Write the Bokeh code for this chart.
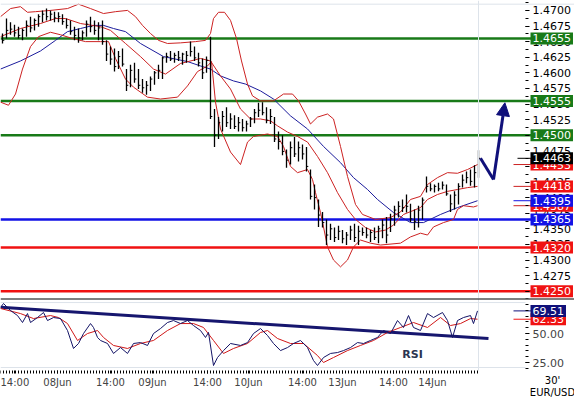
import numpy as np
from bokeh.plotting import figure
from bokeh.models import (Range1d, FixedTicker, PrintfTickFormatter, Span, Label,
                          Arrow, NormalHead)
from bokeh.layouts import column
from bokeh.embed import file_html
from bokeh.resources import INLINE

# ---------------- data ----------------
bar_high = [1.4663, 1.4687, 1.4681, 1.4677, 1.4674, 1.4671, 1.4684, 1.4690, 1.4687, 1.4694,
            1.4700, 1.4703, 1.4700, 1.4698, 1.4697, 1.4694, 1.4687, 1.4684, 1.4674, 1.4671,
            1.4668, 1.4684, 1.4690, 1.4684, 1.4681, 1.4684, 1.4652, 1.4642, 1.4639, 1.4635,
            1.4639, 1.4606, 1.4613, 1.4616, 1.4606, 1.4590, 1.4587, 1.4594, 1.4603, 1.4613,
            1.4626, 1.4632, 1.4635, 1.4632, 1.4635, 1.4632, 1.4635, 1.4650, 1.4642, 1.4632,
            1.4623, 1.4626, 1.4658, 1.4542, 1.4529, 1.4539, 1.4545, 1.4535, 1.4532, 1.4529,
            1.4526, 1.4523, 1.4529, 1.4542, 1.4552, 1.4553, 1.4545, 1.4542, 1.4529, 1.4506,
            1.4500, 1.4477, 1.4490, 1.4497, 1.4490, 1.4485, 1.4481, 1.4445, 1.4421, 1.4397,
            1.4377, 1.4365, 1.4358, 1.4352, 1.4355, 1.4348, 1.4345, 1.4355, 1.4358, 1.4355,
            1.4352, 1.4352, 1.4348, 1.4352, 1.4355, 1.4365, 1.4369, 1.4374, 1.4387, 1.4394,
            1.4397, 1.4405, 1.4390, 1.4381, 1.4387, 1.4400, 1.4434, 1.4423, 1.4421, 1.4424,
            1.4426, 1.4421, 1.4405, 1.4410, 1.4423, 1.4437, 1.4442, 1.4445, 1.4452, 1.4476]
bar_low = [1.4647, 1.4655, 1.4661, 1.4658, 1.4655, 1.4652, 1.4658, 1.4665, 1.4668, 1.4674,
           1.4681, 1.4684, 1.4684, 1.4681, 1.4681, 1.4677, 1.4671, 1.4661, 1.4652, 1.4648,
           1.4652, 1.4658, 1.4665, 1.4661, 1.4652, 1.4645, 1.4619, 1.4613, 1.4602, 1.4606,
           1.4610, 1.4571, 1.4577, 1.4584, 1.4574, 1.4568, 1.4565, 1.4571, 1.4581, 1.4590,
           1.4590, 1.4616, 1.4619, 1.4616, 1.4619, 1.4613, 1.4616, 1.4626, 1.4619, 1.4610,
           1.4590, 1.4600, 1.4526, 1.4481, 1.4494, 1.4506, 1.4513, 1.4510, 1.4510, 1.4506,
           1.4506, 1.4506, 1.4513, 1.4519, 1.4529, 1.4532, 1.4519, 1.4518, 1.4489, 1.4477,
           1.4468, 1.4448, 1.4453, 1.4465, 1.4458, 1.4461, 1.4442, 1.4397, 1.4381, 1.4353,
           1.4352, 1.4324, 1.4332, 1.4329, 1.4332, 1.4327, 1.4324, 1.4332, 1.4329, 1.4324,
           1.4339, 1.4335, 1.4329, 1.4332, 1.4327, 1.4335, 1.4327, 1.4345, 1.4355, 1.4368,
           1.4377, 1.4376, 1.4361, 1.4348, 1.4352, 1.4365, 1.4408, 1.4410, 1.4408, 1.4410,
           1.4413, 1.4403, 1.4377, 1.4381, 1.4389, 1.4416, 1.4423, 1.4419, 1.4416, 1.4432]
bar_close = [1.4652, 1.4668, 1.4670, 1.4664, 1.4660, 1.4668, 1.4676, 1.4672, 1.4684, 1.4690,
             1.4694, 1.4690, 1.4694, 1.4688, 1.4690, 1.4682, 1.4676, 1.4666, 1.4660, 1.4656,
             1.4664, 1.4678, 1.4674, 1.4668, 1.4672, 1.4650, 1.4630, 1.4622, 1.4610, 1.4626,
             1.4614, 1.4580, 1.4604, 1.4590, 1.4580, 1.4576, 1.4580, 1.4590, 1.4600, 1.4604,
             1.4624, 1.4626, 1.4622, 1.4628, 1.4624, 1.4630, 1.4628, 1.4634, 1.4624, 1.4616,
             1.4600, 1.4620, 1.4530, 1.4500, 1.4520, 1.4530, 1.4520, 1.4526, 1.4514, 1.4520,
             1.4512, 1.4518, 1.4526, 1.4536, 1.4540, 1.4536, 1.4524, 1.4530, 1.4494, 1.4490,
             1.4474, 1.4460, 1.4480, 1.4470, 1.4480, 1.4470, 1.4450, 1.4402, 1.4400, 1.4372,
             1.4360, 1.4340, 1.4350, 1.4336, 1.4346, 1.4334, 1.4340, 1.4348, 1.4336, 1.4346,
             1.4344, 1.4340, 1.4344, 1.4336, 1.4350, 1.4356, 1.4340, 1.4366, 1.4380, 1.4386,
             1.4384, 1.4386, 1.4366, 1.4362, 1.4380, 1.4396, 1.4418, 1.4414, 1.4418, 1.4414,
             1.4420, 1.4406, 1.4390, 1.4404, 1.4418, 1.4428, 1.4432, 1.4426, 1.4440, 1.4463]

bb_up_h = [0, 2.5, 5, 6.75, 8.75, 12.5, 16.75, 19.5, 22.5, 25.75, 28.75, 31.75, 33.75, 35.5,
           37.5, 39.5, 41.75, 45, 48.75, 51.25, 52.5, 53.25, 54.5, 56, 57.5, 59, 60.25, 61.75,
           63, 65, 68.25, 70.75, 73, 74.5, 76.25, 77.5, 79.25, 81.75, 83.25, 85, 86.75, 88.75,
           90.5, 93.75, 97.5, 100, 102.5, 105, 106.75, 109.25, 111.75, 114.25, 116.75, 119.25]
bb_up = [1.4690, 1.4703, 1.4706, 1.4697, 1.4698, 1.4700, 1.4703, 1.4710, 1.4703, 1.4695,
         1.4698, 1.4700, 1.4690, 1.4676, 1.4663, 1.4652, 1.4647, 1.4648, 1.4650, 1.4652,
         1.4663, 1.4687, 1.4697, 1.4697, 1.4684, 1.4655, 1.4619, 1.4582, 1.4563, 1.4555,
         1.4555, 1.4566, 1.4566, 1.4555, 1.4534, 1.4518, 1.4529, 1.4534, 1.4526, 1.4482,
         1.4434, 1.4389, 1.4373, 1.4365, 1.4368, 1.4377, 1.4397, 1.4402, 1.4421, 1.4432,
         1.4440, 1.4439, 1.4445, 1.4453]
bb_mid_h = [0, 5, 10, 13.75, 16.25, 20, 25, 27.5, 31.25, 35, 38.25, 41.25, 45, 50, 52.5, 55,
            57.5, 60, 62.5, 65, 67.5, 69.25, 71.75, 74.25, 76.75, 79.25, 81.75, 84.25, 86.75,
            88.75, 91.25, 93.75, 96.25, 98.25, 100.75, 105, 106.75, 109.25, 111.75, 114.25,
            116.75, 119.25]
bb_mid = [1.4658, 1.4671, 1.4679, 1.4687, 1.4687, 1.4679, 1.4674, 1.4668, 1.4647, 1.4626,
          1.4606, 1.4598, 1.4615, 1.4623, 1.4619, 1.4595, 1.4574, 1.4542, 1.4526, 1.4526,
          1.4523, 1.4515, 1.4505, 1.4498, 1.4489, 1.4466, 1.4440, 1.4408, 1.4381, 1.4365,
          1.4352, 1.4345, 1.4348, 1.4356, 1.4373, 1.4384, 1.4397, 1.4405, 1.4410, 1.4413,
          1.4416, 1.4418]
bb_low_h = [0, 2, 3.75, 5.5, 7.5, 9.5, 12.5, 15, 18, 21.25, 25, 27, 28.75, 31.25, 33.25,
            36.75, 40, 44.25, 46.75, 49.25, 51.75, 52.75, 53.75, 55, 57.5, 60, 61.75, 63.25,
            66.75, 69.25, 70.75, 72.5, 74.25, 76.75, 78, 78.75, 80, 80.75, 81.75, 83.25, 85,
            86.75, 88.25, 90, 92.5, 95, 100, 102.5, 105, 106.75, 108.25, 110.75, 113.25,
            114.25, 115.75, 118.25, 119.25]
bb_low = [1.4553, 1.4548, 1.4566, 1.4606, 1.4642, 1.4658, 1.4665, 1.4661, 1.4655, 1.4650,
          1.4650, 1.4650, 1.4623, 1.4590, 1.4577, 1.4561, 1.4558, 1.4561, 1.4579, 1.4602,
          1.4611, 1.4618, 1.4553, 1.4510, 1.4473, 1.4453, 1.4489, 1.4498, 1.4502, 1.4498,
          1.4482, 1.4450, 1.4440, 1.4445, 1.4429, 1.4408, 1.4376, 1.4353, 1.4321, 1.4300,
          1.4289, 1.4300, 1.4321, 1.4332, 1.4327, 1.4324, 1.4327, 1.4337, 1.4343, 1.4340,
          1.4353, 1.4360, 1.4365, 1.4381, 1.4387, 1.4385, 1.4387]
ma_h = [0, 5, 10, 13.75, 16.75, 20, 23.25, 25.75, 28.25, 31.25, 35, 40.75, 46.75, 50, 52.5,
        55, 58.25, 61.25, 65, 68.25, 72.5, 76.75, 80.75, 85, 88.25, 91.75, 94.25, 98.25,
        102.5, 105.75, 110, 114.25, 119.25]
ma = [1.4606, 1.4619, 1.4635, 1.4652, 1.4666, 1.4671, 1.4676, 1.4676, 1.4671, 1.4666,
      1.4647, 1.4626, 1.4618, 1.4611, 1.4606, 1.4595, 1.4587, 1.4582, 1.4571, 1.4558,
      1.4531, 1.4510, 1.4482, 1.4456, 1.4432, 1.4413, 1.4397, 1.4376, 1.4360, 1.4360,
      1.4373, 1.4384, 1.4395]

support_levels = [1.4365]
resistance_levels = [1.4655, 1.4555, 1.4500]
red_levels = [1.4320, 1.4250]
last_price = 1.4463
bb_last = [1.4453, 1.4418, 1.4387]
ma_last = 1.4395

arrow_h = [120, 123.25, 126.1]
arrow_p = [1.4463, 1.4429, 1.4552]

rsi_h = [0, 0.75, 2.5, 4.25, 5.5, 6.75, 7.5, 9.25, 10.75, 11.75, 13.25, 15, 16.75, 18.25,
         19.5, 20.75, 22.5, 23.25, 24.25, 25, 26.75, 28.25, 30, 31.75, 33.25, 35, 36.75,
         38.25, 40, 41.75, 43.25, 45, 46.75, 48.25, 50, 51.25, 52, 53.25, 54.25, 55.75, 57.5,
         60, 61.75, 63.25, 65, 66.75, 68.25, 70, 71.75, 73.25, 75, 76.75, 78.25, 79.25, 80.75,
         82.5, 84.25, 85.75, 87.5, 89.25, 90.75, 92.5, 94.25, 95.75, 97.5, 99.25, 100.75,
         102, 103.25, 105, 106.75, 108.25, 110.5, 111.75, 113, 114.25, 115.75, 117.5,
         118.25, 119.25]
rsi = [72.4, 75.9, 69.8, 65.5, 59.5, 67.2, 59.5, 63.8, 68.1, 61.2, 63.8, 62.9, 52.6, 37.1,
       41.4, 50.0, 58.6, 55.2, 46.6, 44.0, 41.4, 32.8, 37.9, 32.8, 41.4, 42.2, 39.7, 50.0,
       54.3, 59.5, 61.2, 58.6, 61.2, 56.9, 52.6, 46.6, 50.9, 22.4, 29.3, 35.3, 41.4, 39.7,
       42.2, 50.0, 54.3, 48.3, 41.4, 35.3, 37.9, 41.4, 44.0, 37.9, 26.7, 22.4, 29.3, 32.8,
       33.6, 35.3, 37.9, 42.2, 41.4, 44.0, 46.6, 52.6, 50.0, 61.2, 55.2, 65.5, 55.2, 52.6,
       67.2, 63.8, 68.1, 61.2, 46.6, 61.2, 63.8, 65.5, 58.6, 69.51]
rsi_ma_h = [0, 5, 8.25, 12.5, 14.5, 16.75, 19.25, 21.75, 24.25, 25.75, 28.25, 31.75, 35,
            38.25, 41.75, 45, 48.25, 50.75, 53.25, 55.75, 58.25, 61.75, 65, 66.75, 69.25,
            72.5, 75.75, 79.25, 80.75, 83.25, 86.75, 90, 93.25, 96.75, 100, 103.25, 106.75,
            110, 112.5, 115, 117.5, 119.25]
rsi_ma = [71.6, 67.2, 62.9, 65.5, 63.8, 58.6, 44.0, 50.0, 52.6, 46.6, 39.7, 37.1, 41.4,
          44.0, 52.6, 58.6, 58.6, 55.2, 44.0, 32.8, 37.1, 41.4, 50.9, 52.6, 45.7, 41.4, 41.4,
          31.0, 25.0, 29.3, 35.3, 39.7, 44.0, 50.9, 55.2, 59.5, 55.2, 63.8, 56.9, 58.6, 62.9,
          62.33]
rsi_trend_h = [0, 122]
rsi_trend = [72.6, 45.6]

time_ticks = [3.5, 14.25, 27.5, 38, 51.75, 62, 75.5, 85.5, 98.25, 108]
time_labels = ["14:00", "08Jun", "14:00", "09Jun", "14:00", "10Jun", "14:00", "13Jun",
               "14:00", "14Jun"]
price_ticks = [1.4250, 1.4275, 1.4300, 1.4325, 1.4350, 1.4375, 1.4400, 1.4425, 1.4450,
               1.4475, 1.4500, 1.4525, 1.4550, 1.4575, 1.4600, 1.4625, 1.4650, 1.4675, 1.4700]
rsi_ticks = [25, 50]

# ---------------- styling ----------------
W = 574
P_H = 298
R_H = 101
FONT = "DejaVu Sans"
GREEN = "#187a18"
BLUE_LVL = "#1212e6"
RED_LVL = "#f01212"
BB_RED = "#cc2222"
MA_BLUE = "#1c1c9c"
NAVY = "#10107a"
LIGHT = "#dde3ea"

x_data_end = 131.25      # right edge of the chart area (axis position)
x_range = Range1d(0, 143.5)
bar_x = np.arange(len(bar_high)) + 0.5

common = dict(width=W, output_backend="svg", toolbar_location=None, x_range=x_range,
              min_border_left=0, min_border_right=0, min_border_top=0, min_border_bottom=0)

p = figure(height=P_H, y_range=Range1d(1.42383, 1.47159), y_axis_location="right",
           x_axis_location=None, **common)
p.grid.visible = False
p.outline_line_color = None
p.background_fill_color = "white"

ax = p.yaxis[0]
ax.fixed_location = x_data_end
ax.ticker = FixedTicker(ticks=price_ticks,
                        minor_ticks=list(np.arange(1.42375, 1.4716, 0.00125)))
ax.formatter = PrintfTickFormatter(format="%.4f")
ax.axis_line_color = None
ax.major_tick_in = 0
ax.major_tick_out = 4
ax.minor_tick_in = 0
ax.minor_tick_out = 3
ax.major_label_standoff = 3
ax.major_label_text_font = FONT
ax.major_label_text_font_size = "11px"
ax.major_label_text_color = "#000000"

p.add_layout(Span(location=1.4710, dimension="width", line_color=LIGHT, line_width=1))
p.add_layout(Span(location=119.5, dimension="height", line_color=LIGHT, line_width=1))

lvl_x = [0, x_data_end + 1.5]
for lv in resistance_levels:
    p.line(lvl_x, [lv, lv], line_color=GREEN, line_width=2.5)
for lv in support_levels:
    p.line(lvl_x, [lv, lv], line_color=BLUE_LVL, line_width=2.5)
for lv in red_levels:
    p.line(lvl_x, [lv, lv], line_color=RED_LVL, line_width=2.5)

p.line(ma_h, ma, line_color=MA_BLUE, line_width=1)
p.line(bb_up_h, bb_up, line_color=BB_RED, line_width=1)
p.line(bb_mid_h, bb_mid, line_color=BB_RED, line_width=1)
p.line(bb_low_h, bb_low, line_color=BB_RED, line_width=1)

p.segment(x0=bar_x, y0=bar_low, x1=bar_x, y1=bar_high, line_color="black", line_width=1.3)
p.segment(x0=bar_x, y0=bar_close, x1=bar_x + 0.45, y1=bar_close, line_color="black",
          line_width=1)

p.line(arrow_h[:2], arrow_p[:2], line_color=NAVY, line_width=3)
p.add_layout(Arrow(end=NormalHead(size=13, fill_color=NAVY, line_color=NAVY),
                   x_start=arrow_h[1], y_start=arrow_p[1], x_end=arrow_h[2], y_end=arrow_p[2],
                   line_color=NAVY, line_width=3))

# stubs next to value tags
stub_x0 = x_data_end - 3
stub_x1 = x_data_end + 1.5
p.segment(x0=[stub_x0] * 3, y0=bb_last, x1=[stub_x1] * 3, y1=bb_last, line_color=BB_RED)
p.segment(x0=[stub_x0], y0=[ma_last], x1=[stub_x1], y1=[ma_last], line_color=BLUE_LVL)
p.segment(x0=[stub_x0 + 1], y0=[last_price], x1=[stub_x1], y1=[last_price],
          line_color="black")

tag_x = x_data_end + 1.25


def tag(fig, x, y, v, color, fmt="%.4f"):
    fig.add_layout(Label(x=x, y=y, text=fmt % v, text_color="white", text_font=FONT,
                         text_font_size="11px", text_baseline="middle", text_align="left",
                         background_fill_color=color, background_fill_alpha=1.0,
                         padding=2))


for v in resistance_levels:
    tag(p, tag_x, v, v, GREEN)
for v in red_levels:
    tag(p, tag_x, v, v, RED_LVL)
tag(p, tag_x, bb_last[0], bb_last[0], RED_LVL)
tag(p, tag_x, bb_last[2], bb_last[2], RED_LVL)
tag(p, tag_x, bb_last[1], bb_last[1], RED_LVL)
tag(p, tag_x, ma_last, ma_last, BLUE_LVL)
for v in support_levels:
    tag(p, tag_x, v, v, BLUE_LVL)
tag(p, tag_x, last_price, last_price, "#000000")

# ---------------- RSI panel ----------------
rsi_axis_floor = 18.1
r = figure(height=R_H, y_range=Range1d(-6.9, 80.2), y_axis_location="right",
           x_axis_location="below", **common)
r.grid.visible = False
r.outline_line_color = None
r.background_fill_color = "white"

ry = r.yaxis[0]
ry.fixed_location = x_data_end
ry.ticker = FixedTicker(ticks=rsi_ticks, minor_ticks=list(range(20, 81, 5)))
ry.formatter = PrintfTickFormatter(format="%.2f")
ry.axis_line_color = None
ry.major_tick_in = 0
ry.major_tick_out = 4
ry.minor_tick_in = 0
ry.minor_tick_out = 3
ry.major_label_standoff = 3
ry.major_label_text_font = FONT
ry.major_label_text_font_size = "11px"

rx = r.xaxis[0]
rx.fixed_location = rsi_axis_floor
rx.ticker = FixedTicker(ticks=time_ticks, minor_ticks=list(np.arange(0, 119.3, 0.75)))
rx.major_label_overrides = {t: s for t, s in zip(time_ticks, time_labels)}
rx.axis_line_color = None
rx.major_tick_in = 0
rx.major_tick_out = 3
rx.minor_tick_in = 0
rx.minor_tick_out = 3
rx.major_label_standoff = 3
rx.major_label_text_font = FONT
rx.major_label_text_font_size = "10px"

r.add_layout(Span(location=80.0, dimension="width", line_color="black", line_width=1.5))
r.line([0, x_data_end], [76.7, 76.7], line_color=LIGHT, line_width=1)
r.line([0, x_data_end], [20.7, 20.7], line_color=LIGHT, line_width=1)
r.line([119.5, 119.5], [rsi_axis_floor, 80.2], line_color=LIGHT, line_width=1)

r.line(rsi_trend_h, rsi_trend, line_color="#16166e", line_width=3)
r.line(rsi_ma_h, rsi_ma, line_color="#d01818", line_width=1)
r.line(rsi_h, rsi, line_color="#141466", line_width=1)

r.segment(x0=[stub_x0], y0=[rsi[-1]], x1=[stub_x1], y1=[rsi[-1]], line_color=NAVY)
r.segment(x0=[stub_x0], y0=[rsi_ma[-1]], x1=[stub_x1], y1=[rsi_ma[-1]], line_color=RED_LVL)
tag(r, tag_x, rsi_ma[-1], rsi_ma[-1], RED_LVL, fmt="%.2f")
tag(r, tag_x, rsi[-1], rsi[-1], NAVY, fmt="%.2f")

r.add_layout(Label(x=103, y=31.9, text="RSI", text_font=FONT, text_font_size="11px",
                   text_font_style="bold", text_color="#2b3550", text_align="center",
                   text_baseline="middle"))
r.add_layout(Label(x=138.0, y=9.5, text="30'", text_font=FONT, text_font_size="10px",
                   text_color="black", text_align="center", text_baseline="middle"))
r.add_layout(Label(x=138.0, y=-1.0, text="EUR/USD", text_font=FONT, text_font_size="10px",
                   text_color="black", text_align="center", text_baseline="middle"))

layout = column(p, r, spacing=0)
open("out.html", "w").write(file_html(layout, INLINE))
